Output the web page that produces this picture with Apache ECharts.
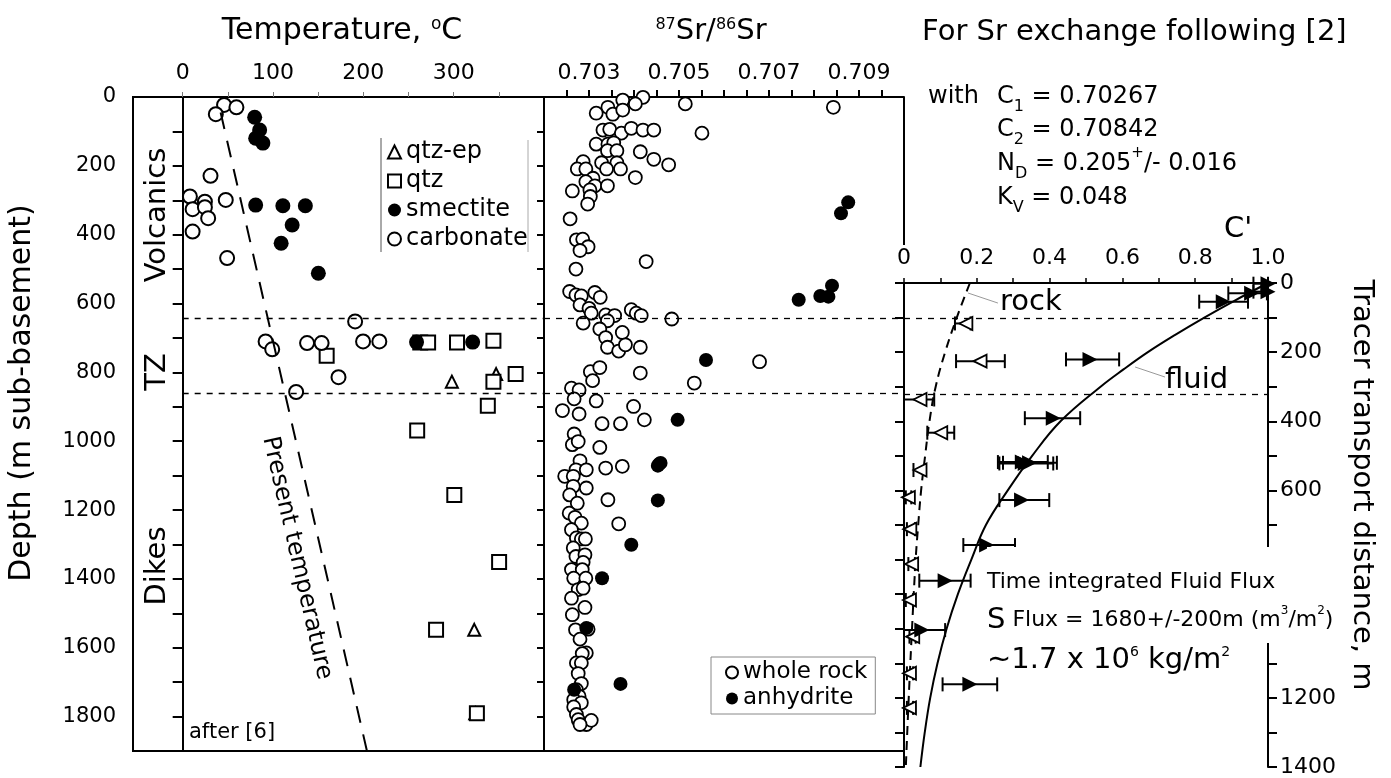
<!DOCTYPE html>
<html>
<head>
<meta charset="utf-8">
<script src="https://cdn.jsdelivr.net/npm/echarts@6/dist/echarts.min.js"></script>
<style>
html, body { margin: 0; padding: 0; background: #fff; }
#chart { width: 1391px; height: 778px; }
</style>
</head>
<body>
<div id="chart"></div>
<script>
// temperature panel: [temperature C, depth m]
var qtzEp = [[298, 827], [347, 805], [322.8, 1548], [323.9, 1790]]
var qtz = [[263, 713], [159.4, 752], [271.7, 713], [303.7, 713], [344, 708], [368.6, 805], [344, 827],
  [337.8, 897], [259.6, 969], [300.7, 1156], [350.3, 1351], [280.5, 1548], [325.7, 1790]]
var smectite = [[79.7, 59], [85.2, 96], [80.8, 120], [88.8, 134], [80.8, 314], [110.9, 316], [135.8, 316],
  [121.2, 372], [109, 425], [150.2, 512], [258.9, 712], [321, 712]]
var carbonate = [[45.8, 23], [59.5, 30], [36.7, 50], [30.8, 229], [8, 289], [24.6, 304], [11, 326], [24.6, 320],
  [47.7, 299], [28.2, 352], [11, 391], [49.2, 468], [190.9, 652], [91.8, 710], [99.1, 733], [137.7, 715],
  [153.8, 715], [199.7, 710], [217.7, 710], [172.5, 814], [125.6, 857]]
var presentTemp = [[42, 45], [204, 1900]]
var zoneDepths = [642, 862]

// 87Sr/86Sr panel: [ratio, depth m]
var wholeRock = [[0.70375, 9], [0.70420, 1], [0.70403, 20], [0.70514, 20], [0.70843, 30], [0.70342, 30],
  [0.70316, 47], [0.70353, 50], [0.70375, 38], [0.70331, 96], [0.70346, 94], [0.70372, 105], [0.70394, 91],
  [0.70420, 96], [0.70444, 96], [0.70551, 105], [0.70316, 137], [0.70342, 137], [0.70355, 133], [0.70341, 156],
  [0.70362, 156], [0.70414, 159], [0.70287, 188], [0.70328, 191], [0.70362, 191], [0.70444, 181], [0.70477, 197],
  [0.70274, 209], [0.70293, 209], [0.70339, 209], [0.70370, 209], [0.70309, 236], [0.70293, 246], [0.70313, 258],
  [0.70341, 258], [0.70403, 234], [0.70263, 273], [0.70302, 270], [0.70303, 289], [0.70297, 311], [0.70258, 354],
  [0.70272, 415], [0.70286, 413], [0.70298, 435], [0.70280, 446], [0.70427, 478], [0.70271, 500], [0.70257, 565],
  [0.70271, 575], [0.70283, 578], [0.70313, 568], [0.70325, 582],
  [0.70280, 604], [0.70300, 614], [0.70305, 628], [0.70337, 633], [0.70357, 635], [0.70394, 618], [0.70405, 628],
  [0.70416, 635], [0.70484, 645], [0.70287, 657], [0.70341, 650], [0.70324, 674], [0.70374, 684], [0.70337, 699],
  [0.70341, 727], [0.70366, 738], [0.70381, 720], [0.70414, 727], [0.70303, 798], [0.70324, 786], [0.70308, 824],
  [0.70414, 802], [0.70534, 831], [0.70679, 769], [0.70261, 846], [0.70278, 851], [0.70267, 877], [0.70316, 883],
  [0.70241, 911], [0.70278, 921], [0.70399, 899], [0.70329, 949], [0.70370, 949], [0.70423, 938], [0.70267, 979],
  [0.70263, 1010], [0.70276, 1001], [0.70324, 1018], [0.70280, 1057], [0.70271, 1083], [0.70294, 1083],
  [0.70337, 1078], [0.70374, 1073], [0.70246, 1102], [0.70265, 1102],
  [0.70265, 1131], [0.70294, 1136], [0.70257, 1156], [0.70274, 1180], [0.70342, 1170], [0.70256, 1209],
  [0.70269, 1221], [0.70283, 1238], [0.70366, 1240], [0.70261, 1257], [0.70272, 1281], [0.70283, 1284],
  [0.70292, 1284], [0.70265, 1310], [0.70271, 1335], [0.70291, 1330], [0.70287, 1352], [0.70261, 1373],
  [0.70285, 1373], [0.70266, 1398], [0.70293, 1398], [0.70276, 1431], [0.70287, 1427], [0.70261, 1456],
  [0.70291, 1483], [0.70263, 1504], [0.70270, 1548], [0.70298, 1546], [0.70280, 1575], [0.70294, 1615],
  [0.70285, 1617], [0.70272, 1644], [0.70283, 1644], [0.70276, 1675], [0.70283, 1704], [0.70272, 1722],
  [0.70278, 1741], [0.70266, 1751], [0.70283, 1760], [0.70266, 1772], [0.70272, 1794], [0.70276, 1809],
  [0.70294, 1823], [0.70305, 1811], [0.70280, 1823]]
var anhydrite = [[0.70876, 306], [0.70860, 338], [0.70840, 548], [0.70766, 589], [0.70814, 578], [0.70832, 580],
  [0.70560, 764], [0.70497, 938], [0.70456, 1066], [0.70453, 1071], [0.70459, 1063], [0.70453, 1172],
  [0.70394, 1301], [0.70329, 1398], [0.70294, 1543], [0.70370, 1705], [0.70267, 1722]]

// C' panel: [C', tracer distance m, low, high]
var fluidPts = [[1.0, 2, 0.96, 1.0], [1.0, 25, 0.96, 1.0], [0.955, 30, 0.891, 0.997], [0.877, 54, 0.811, 0.945],
  [0.511, 221, 0.445, 0.591], [0.410, 391, 0.332, 0.484], [0.325, 518, 0.258, 0.395], [0.333, 522, 0.262, 0.41],
  [0.345, 520, 0.272, 0.42], [0.323, 628, 0.262, 0.399], [0.227, 758, 0.163, 0.305], [0.113, 861, 0.042, 0.183],
  [0.049, 1004, 0.0, 0.113], [0.181, 1161, 0.106, 0.256]]
var rockPts = [[0.170, 117, 0.140, 0.183], [0.209, 226, 0.143, 0.277], [0.044, 337, 0.0, 0.083],
  [0.101, 433, 0.064, 0.138], [0.044, 541, 0.026, 0.060], [0.012, 620, 0.005, 0.02], [0.016, 712, 0.008, 0.03],
  [0.021, 813, 0.012, 0.03], [0.015, 917, 0.005, 0.025], [0.024, 1023, 0.015, 0.032], [0.015, 1129, 0.008, 0.025],
  [0.015, 1229, 0.008, 0.025]]
var fluidCurve = [[1.0, 0], [0.91, 50], [0.825, 100], [0.745, 150], [0.67, 200], [0.603, 250], [0.54, 300],
  [0.43, 400], [0.352, 500], [0.285, 600], [0.225, 700], [0.185, 800], [0.148, 900], [0.117, 1000],
  [0.092, 1100], [0.072, 1200], [0.057, 1300], [0.045, 1400]]
var rockCurve = [[0.181, 0], [0.145, 100], [0.113, 200], [0.087, 300], [0.07, 400], [0.058, 500], [0.047, 600],
  [0.039, 700], [0.032, 800], [0.022, 1000], [0.013, 1200], [0.005, 1400]]
var zoneTracer = [101, 321]

// ticks and labels
var tempTicks = [0, 50, 100, 150, 200, 250, 300, 350]
var tempLabels = [0, 100, 200, 300]
var srTicks = [0.7025, 0.703, 0.7035, 0.704, 0.7045, 0.705, 0.7055, 0.706, 0.7065, 0.707, 0.7075, 0.708, 0.7085, 0.709, 0.7095]
var srLabels = [0.703, 0.705, 0.707, 0.709]
var depthTicks = [0, 100, 200, 300, 400, 500, 600, 700, 800, 900, 1000, 1100, 1200, 1300, 1400, 1500, 1600, 1700, 1800, 1900]
var depthLabels = [0, 200, 400, 600, 800, 1000, 1200, 1400, 1600, 1800]
var cTicks = [0, 0.1, 0.2, 0.3, 0.4, 0.5, 0.6, 0.7, 0.8, 0.9, 1.0]
var cLabels = [0, 0.2, 0.4, 0.6, 0.8, 1.0]
var tracerLabels = [0, 200, 400, 600, 800, 1000, 1200, 1400]

var FONT = 'DejaVu Sans'
var black = '#000'
var plain = function (v) { return String(v) }

// horizontal error bar with end caps
function errorBar(params, api) {
  var y = api.value(1)
  var lo = api.coord([api.value(2), y])
  var hi = api.coord([api.value(3), y])
  var h = 7
  var st = { stroke: black, lineWidth: 2 }
  return {
    type: 'group',
    children: [
      { type: 'line', shape: { x1: lo[0], y1: lo[1], x2: hi[0], y2: hi[1] }, style: st },
      { type: 'line', shape: { x1: lo[0], y1: lo[1] - h, x2: lo[0], y2: lo[1] + h }, style: st },
      { type: 'line', shape: { x1: hi[0], y1: hi[1] - h, x2: hi[0], y2: hi[1] + h }, style: st }
    ]
  }
}

function hLine(xs, y, dashed) {
  return [{ coord: [xs[0], y], lineStyle: { color: black, width: dashed ? 1.3 : 2, type: dashed ? [6, 6] : 'solid' } }, { coord: [xs[1], y] }]
}

function txt(x, y, text, size, opt) {
  opt = opt || {}
  return {
    type: 'text', x: x, y: y, rotation: opt.rotation || 0, z: 50,
    style: {
      text: text, fontFamily: FONT, fontSize: size, fill: black,
      align: opt.align || 'left', textAlign: opt.align || 'left',
      verticalAlign: 'middle', textVerticalAlign: 'middle',
      lineHeight: opt.lineHeight, rich: opt.rich,
      backgroundColor: opt.bg, width: opt.width, padding: opt.padding
    }
  }
}

var subRich = { sub: { fontFamily: FONT, fontSize: 16, verticalAlign: 'bottom', lineHeight: 16 }, sup: { fontFamily: FONT, fontSize: 15, verticalAlign: 'top', lineHeight: 15 } }

var myChart = echarts.init(document.getElementById('chart'))
myChart.setOption({
  animation: false,
  backgroundColor: '#fff',
  textStyle: { fontFamily: FONT, color: black },
  grid: [
    { left: 133, top: 97, width: 411, height: 654, show: true, borderColor: black, borderWidth: 2 },
    { left: 544, top: 97, width: 360, height: 654 },
    { left: 904, top: 283, width: 364, height: 484 }
  ],
  legend: [{
    data: ['qtz-ep', 'qtz', 'smectite', 'carbonate'],
    orient: 'vertical', left: 387, top: 140, padding: 0,
    itemWidth: 13, itemHeight: 13, itemGap: 5, selectedMode: false,
    textStyle: { fontFamily: FONT, fontSize: 24, color: black, lineHeight: 23 }
  }, {
    data: ['whole rock', 'anhydrite'],
    orient: 'vertical', left: 711, top: 657, padding: [4, 8, 4, 14],
    borderColor: '#888', borderWidth: 1,
    itemWidth: 12, itemHeight: 12, itemGap: 3, selectedMode: false,
    textStyle: { fontFamily: FONT, fontSize: 23, color: black, lineHeight: 23 }
  }],
  xAxis: [{
    gridIndex: 0, type: 'value', position: 'top', min: -55, max: 400,
    axisLine: { show: false }, splitLine: { show: false },
    axisTick: { length: 5, lineStyle: { color: '#777', width: 1 }, customValues: tempTicks },
    axisLabel: { customValues: tempLabels, fontSize: 22, margin: 13, color: black, formatter: plain }
  }, {
    gridIndex: 1, type: 'value', position: 'top', min: 0.702, max: 0.710,
    axisLine: { show: true, lineStyle: { color: black, width: 2 } }, splitLine: { show: false },
    axisTick: { length: 7, lineStyle: { color: black, width: 2 }, customValues: srTicks },
    axisLabel: { customValues: srLabels, fontSize: 22, margin: 13, color: black, formatter: function (v) { return v.toFixed(3) } }
  }, {
    gridIndex: 1, type: 'value', position: 'bottom', min: 0.702, max: 0.710,
    axisLine: { show: true, lineStyle: { color: black, width: 2 } }, splitLine: { show: false },
    axisTick: { show: false }, axisLabel: { show: false }
  }, {
    gridIndex: 2, type: 'value', position: 'top', min: 0, max: 1,
    axisLine: { show: true, lineStyle: { color: black, width: 2 } }, splitLine: { show: false },
    axisTick: { length: 5, lineStyle: { color: black, width: 1.5 }, customValues: cTicks },
    axisLabel: { customValues: cLabels, fontSize: 22, margin: 14, color: black, formatter: function (v) { return v === 0 ? '0' : v.toFixed(1) } }
  }],
  yAxis: [{
    gridIndex: 0, type: 'value', inverse: true, min: 0, max: 1900,
    axisLine: { show: false }, splitLine: { show: false },
    axisTick: { length: 10, lineStyle: { color: black, width: 2 }, customValues: depthTicks },
    axisLabel: { customValues: depthLabels, fontSize: 21, margin: 17, color: black, formatter: plain }
  }, {
    gridIndex: 0, type: 'value', position: 'right', inverse: true, min: 0, max: 1900,
    axisLine: { show: false }, splitLine: { show: false },
    axisTick: { inside: true, length: 7, lineStyle: { color: black, width: 2 }, customValues: depthTicks },
    axisLabel: { show: false }
  }, {
    gridIndex: 1, type: 'value', inverse: true, min: 0, max: 1900, show: false
  }, {
    gridIndex: 2, type: 'value', position: 'left', inverse: true, min: 0, max: 1400, interval: 100,
    axisLine: { show: true, lineStyle: { color: black, width: 2 } }, splitLine: { show: false },
    axisTick: { length: 9, lineStyle: { color: black, width: 2 } },
    axisLabel: { show: false }
  }, {
    gridIndex: 2, type: 'value', position: 'right', inverse: true, min: 0, max: 1400, interval: 100,
    axisLine: { show: true, lineStyle: { color: black, width: 2 } }, splitLine: { show: false },
    axisTick: { length: 9, lineStyle: { color: black, width: 2 } },
    axisLabel: { customValues: tracerLabels, fontSize: 22, margin: 12, color: black, formatter: plain }
  }],
  series: [{
    name: 'qtz-ep', type: 'scatter', xAxisIndex: 0, yAxisIndex: 0, data: qtzEp,
    symbol: 'triangle', symbolSize: 12,
    itemStyle: { color: '#fff', borderColor: black, borderWidth: 2, opacity: 1 }
  }, {
    name: 'qtz', type: 'scatter', xAxisIndex: 0, yAxisIndex: 0, data: qtz,
    symbol: 'rect', symbolSize: 14,
    itemStyle: { color: '#fff', borderColor: black, borderWidth: 2, opacity: 1 }
  }, {
    name: 'smectite', type: 'scatter', xAxisIndex: 0, yAxisIndex: 0, data: smectite,
    symbol: 'circle', symbolSize: 15,
    itemStyle: { color: black, borderWidth: 0, opacity: 1 }
  }, {
    name: 'carbonate', type: 'scatter', xAxisIndex: 0, yAxisIndex: 0, data: carbonate,
    symbol: 'circle', symbolSize: 14,
    itemStyle: { color: '#fff', borderColor: black, borderWidth: 2, opacity: 1 }
  }, {
    name: 'Present temperature', type: 'line', xAxisIndex: 0, yAxisIndex: 0, data: presentTemp,
    symbol: 'none', lineStyle: { color: black, width: 2, type: [17, 12] },
    markLine: {
      silent: true, symbol: 'none', label: { show: false },
      data: [
        [{ coord: [0, 0], lineStyle: { color: black, width: 2, type: 'solid' } }, { coord: [0, 1900] }],
        hLine([0, 400], zoneDepths[0], true),
        hLine([0, 400], zoneDepths[1], true)
      ]
    }
  }, {
    name: 'whole rock', type: 'scatter', xAxisIndex: 1, yAxisIndex: 2, data: wholeRock,
    symbol: 'circle', symbolSize: 13,
    itemStyle: { color: '#fff', borderColor: black, borderWidth: 1.8, opacity: 1 },
    markLine: {
      silent: true, symbol: 'none', label: { show: false },
      data: [
        [{ coord: [0.710, 0], lineStyle: { color: black, width: 2, type: 'solid' } }, { coord: [0.710, 430] }],
        hLine([0.702, 0.710], zoneDepths[0], true),
        hLine([0.702, 0.710], zoneDepths[1], true)
      ]
    }
  }, {
    name: 'anhydrite', type: 'scatter', xAxisIndex: 1, yAxisIndex: 2, data: anhydrite,
    symbol: 'circle', symbolSize: 14,
    itemStyle: { color: black, borderWidth: 0, opacity: 1 }
  }, {
    name: 'rock', type: 'line', xAxisIndex: 3, yAxisIndex: 3, data: rockCurve,
    symbol: 'none', smooth: 0.4, lineStyle: { color: black, width: 2, type: [9, 6] },
    markLine: {
      silent: true, symbol: 'none', label: { show: false },
      data: [
        hLine([0, 1], zoneTracer[0], true),
        hLine([0, 1], zoneTracer[1], true),
        [{ coord: [0.176, 29], lineStyle: { color: '#999', width: 1, type: 'solid' } }, { coord: [0.258, 58] }],
        [{ coord: [0.635, 243], lineStyle: { color: '#999', width: 1, type: 'solid' } }, { coord: [0.717, 272] }]
      ]
    }
  }, {
    name: 'fluid', type: 'line', xAxisIndex: 3, yAxisIndex: 3, data: fluidCurve,
    symbol: 'none', smooth: 0.4, lineStyle: { color: black, width: 2 }
  }, {
    name: 'rock bars', type: 'custom', xAxisIndex: 3, yAxisIndex: 3, data: rockPts,
    encode: { x: [2, 3], y: 1 }, renderItem: errorBar, z: 3
  }, {
    name: 'fluid bars', type: 'custom', xAxisIndex: 3, yAxisIndex: 3, data: fluidPts,
    encode: { x: [2, 3], y: 1 }, renderItem: errorBar, z: 3
  }, {
    name: 'rock C', type: 'scatter', xAxisIndex: 3, yAxisIndex: 3, data: rockPts,
    encode: { x: 0, y: 1 }, symbol: 'triangle', symbolRotate: 90, symbolSize: 13, z: 4,
    itemStyle: { color: '#fff', borderColor: black, borderWidth: 1.8, opacity: 1 }
  }, {
    name: 'fluid C', type: 'scatter', xAxisIndex: 3, yAxisIndex: 3, data: fluidPts,
    encode: { x: 0, y: 1 }, symbol: 'triangle', symbolRotate: -90, symbolSize: 15, z: 4,
    itemStyle: { color: black, borderWidth: 0, opacity: 1 }
  }],
  graphic: [
    txt(342, 31, 'Temperature, {sup|o}C', 30, { align: 'center', rich: { sup: { fontFamily: FONT, fontSize: 17, verticalAlign: 'top' } } }),
    txt(711, 31, '{sup|87}Sr/{sup|86}Sr', 29, { align: 'center', rich: { sup: { fontFamily: FONT, fontSize: 16, verticalAlign: 'top' } } }),
    txt(922, 32, 'For Sr exchange following [2]', 29),
    txt(928, 97, 'with', 24),
    txt(997, 97, 'C{sub|1} = 0.70267', 24, { lineHeight: 36, rich: subRich }),
    txt(997, 130, 'C{sub|2} = 0.70842', 24, { lineHeight: 36, rich: subRich }),
    txt(997, 164, 'N{sub|D} = 0.205{sup|+}/- 0.016', 24, { lineHeight: 36, rich: subRich }),
    txt(997, 198, 'K{sub|V} = 0.048', 24, { lineHeight: 36, rich: subRich }),
    txt(1238, 229, "C'", 29, { align: 'center' }),
    txt(22, 393, 'Depth (m sub-basement)', 30, { align: 'center', rotation: Math.PI / 2 }),
    txt(157, 215, 'Volcanics', 29, { align: 'center', rotation: Math.PI / 2 }),
    txt(157, 372, 'TZ', 29, { align: 'center', rotation: Math.PI / 2 }),
    txt(157, 566, 'Dikes', 29, { align: 'center', rotation: Math.PI / 2 }),
    txt(189, 733, 'after [6]', 21),
    txt(297, 558, 'Present temperature', 24, { align: 'center', rotation: -1.346 }),
    txt(1000, 302, 'rock', 29),
    txt(1165, 380, 'fluid', 29),
    txt(987, 582, 'Time integrated Fluid Flux', 22, { bg: '#fff', width: 358, lineHeight: 26, padding: [40, 0, 4, 0] }),
    txt(987, 620, '{big|S} Flux = 1680+/-200m (m{sup|3}/m{sup|2})', 22, { bg: '#fff', width: 358, lineHeight: 30, padding: [8, 0, 8, 0], rich: { big: { fontFamily: FONT, fontSize: 29 }, sup: { fontFamily: FONT, fontSize: 12, verticalAlign: 'top' } } }),
    txt(987, 660, '\u223C1.7 x 10{sup|6} kg/m{sup|2}', 29, { rich: { sup: { fontFamily: FONT, fontSize: 14, verticalAlign: 'top' } } }),
    txt(1362, 485, 'Tracer transport distance, m', 29, { align: 'center', rotation: -Math.PI / 2 }),
    { type: 'line', shape: { x1: 381, y1: 138, x2: 381, y2: 252 }, style: { stroke: '#555', lineWidth: 1 } },
    { type: 'line', shape: { x1: 528, y1: 140, x2: 528, y2: 252 }, style: { stroke: '#aaa', lineWidth: 1 } }
  ]
})
</script>
</body>
</html>
